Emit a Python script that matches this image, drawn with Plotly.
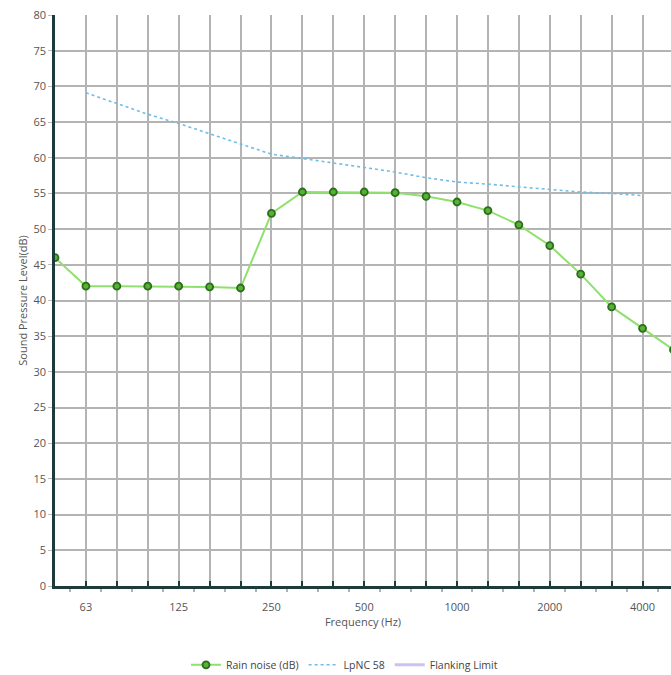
import plotly.graph_objects as go

bands = ["50", "63", "80", "100", "125", "160", "200", "250", "315", "400", "500",
         "630", "800", "1000", "1250", "1600", "2000", "2500", "3150", "4000", "5000"]
rain_noise = [46.0, 42.0, 42.0, 42.0, 42.0, 41.9, 41.75, 52.2, 55.2, 55.2, 55.2,
              55.1, 54.6, 53.8, 52.6, 50.6, 47.7, 43.7, 39.1, 36.1, 33.1]
lpnc_bands = ["63", "80", "100", "125", "160", "200", "250", "315", "400", "500",
              "630", "800", "1000", "1250", "1600", "2000", "2500", "3150", "4000"]
lpnc58 = [69.1, 67.6, 66.1, 64.8, 63.4, 62.0, 60.5, 59.9, 59.3, 58.7,
          58.0, 57.2, 56.6, 56.3, 55.9, 55.5, 55.2, 55.0, 54.7]
labeled = ["63", "125", "250", "500", "1000", "2000", "4000"]
y_ticks = list(range(0, 81, 5))

idx = {b: i for i, b in enumerate(bands)}
x_rain = [idx[b] for b in bands]
x_lpnc = [idx[b] for b in lpnc_bands]

fig = go.Figure()
fig.add_trace(go.Scatter(
    x=x_rain, y=rain_noise, mode="lines+markers", name="Rain noise (dB)",
    line=dict(color="#8fe06c", width=2),
    marker=dict(symbol="circle", size=7, color="#58b036",
                line=dict(color="#2b6e1c", width=1.8)),
))
fig.add_trace(go.Scatter(
    x=x_lpnc, y=lpnc58, mode="lines", name="LpNC 58",
    line=dict(color="#6fbde6", width=1.6, dash="dot"),
))
fig.add_trace(go.Scatter(
    x=[None], y=[None], mode="lines", name="Flanking Limit",
    line=dict(color="#c9c2f2", width=3),
))

fig.update_layout(
    width=671, height=675,
    margin=dict(l=55, r=0, t=15, b=89, autoexpand=False),
    paper_bgcolor="white", plot_bgcolor="white",
    font=dict(family="Open Sans", size=11, color="#555555"),
    showlegend=True,
    legend=dict(orientation="h", x=0.47, xanchor="center", y=-0.138, yanchor="middle",
                font=dict(size=10.5, color="#444444"), itemwidth=30,
                traceorder="normal"),
)
fig.update_xaxes(
    range=[0, 19.92],
    tickmode="array", tickvals=list(range(len(bands))),
    ticktext=[b if b in labeled else "" for b in bands],
    showgrid=True, gridcolor="#b4b4b4", gridwidth=1.5,
    showline=True, linecolor="#1d3b3b", linewidth=2.5,
    ticks="inside", ticklen=5, tickcolor="#1d3b3b", tickwidth=1.5,
    ticklabelstandoff=9,
    minor=dict(tickmode="array", tickvals=[i + 0.5 for i in range(len(bands))],
               ticks="outside", ticklen=3, tickcolor="#b0b0b0", showgrid=False),
    title=dict(text="Frequency (Hz)", font=dict(size=11, color="#555555"), standoff=4),
    tickfont=dict(size=11, color="#555555"),
    zeroline=False,
)
fig.update_yaxes(
    range=[0, 80],
    tickmode="array", tickvals=y_ticks,
    showgrid=True, gridcolor="#b4b4b4", gridwidth=1.5,
    showline=True, linecolor="#1d3b3b", linewidth=2.5,
    ticks="outside", ticklen=4, tickcolor="#bbbbbb",
    title=dict(text="Sound Pressure Level(dB)", font=dict(size=11, color="#555555"), standoff=4),
    tickfont=dict(size=11, color="#555555"),
    zeroline=False,
)

fig.write_html("out.html")
